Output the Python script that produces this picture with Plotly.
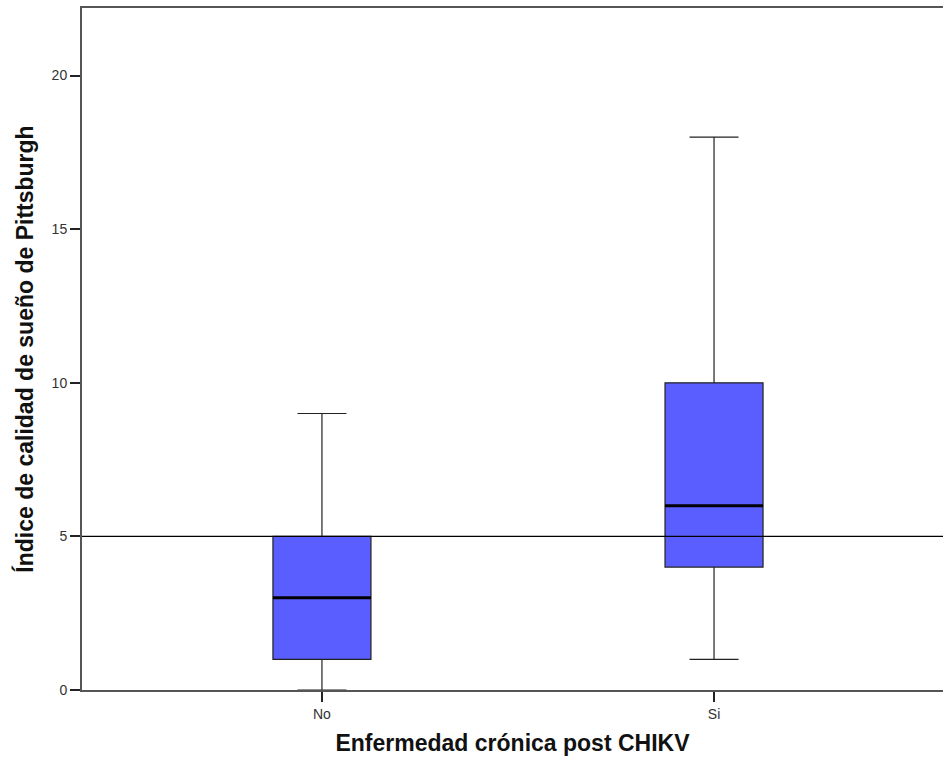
import plotly.graph_objects as go

categories = ["No", "Si"]
lower_whisker = [0, 1]
q1 = [1, 4]
median = [3, 6]
q3 = [5, 10]
upper_whisker = [9, 18]
ref_line_value = 5

box_color = "#5A5EFF"
box_width = 0.25
x_pos = list(range(len(categories)))

fig = go.Figure()
fig.add_trace(go.Box(
    x=x_pos, q1=q1, median=median, q3=q3,
    lowerfence=lower_whisker, upperfence=upper_whisker,
    fillcolor=box_color, line=dict(color="#222222", width=1.2),
    width=box_width, whiskerwidth=0.5, boxpoints=False,
    hoverinfo="skip", showlegend=False,
))
# thicker median lines
for xi, m in zip(x_pos, median):
    fig.add_trace(go.Scatter(
        x=[xi - box_width / 2, xi + box_width / 2], y=[m, m],
        mode="lines", line=dict(color="black", width=3),
        showlegend=False, hoverinfo="skip",
    ))

fig.add_hline(y=ref_line_value, line=dict(color="black", width=1.3))

fig.update_layout(
    width=943, height=760,
    margin=dict(l=82, r=0, t=8, b=70),
    plot_bgcolor="white", paper_bgcolor="white",
    font=dict(family="Liberation Sans, Arial, sans-serif", color="#222222", size=14),
    xaxis=dict(
        range=[-0.612, 1.584], tickvals=x_pos, ticktext=categories,
        showgrid=False, zeroline=False, showline=True, linecolor="#555555",
        linewidth=2, mirror=True, ticks="outside", ticklen=10, tickwidth=1.5,
        tickcolor="#222222", tickfont=dict(size=14, color="#333333"),
        title=dict(text="<b>Enfermedad crónica post CHIKV</b>",
                   font=dict(size=23, color="#111111"), standoff=14),
    ),
    yaxis=dict(
        range=[0, 22.2], tickvals=[0, 5, 10, 15, 20],
        showgrid=False, zeroline=False, showline=True, linecolor="#555555",
        linewidth=2, ticks="outside", ticklen=10, tickwidth=1.5,
        tickcolor="#222222", tickfont=dict(size=14, color="#333333"),
        title=dict(text="<b>Índice de calidad de sueño de Pittsburgh</b>",
                   font=dict(size=23, color="#111111"), standoff=12),
    ),
)

fig.write_html("out.html")
